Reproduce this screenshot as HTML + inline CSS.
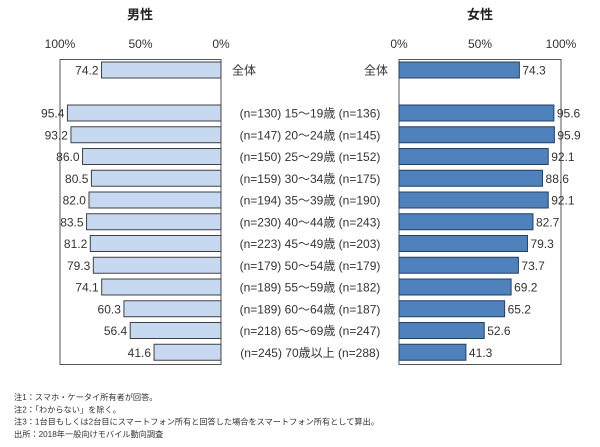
<!DOCTYPE html>
<html><head><meta charset="utf-8"><style>
body{margin:0;background:#fff;}
svg{display:block;font-family:"Liberation Sans","Noto Sans CJK JP",sans-serif;}
</style></head><body>
<svg id="c" width="600" height="447"></svg>
<script>
const categories=["全体","15～19歳","20～24歳","25～29歳","30～34歳","35～39歳","40～44歳","45～49歳","50～54歳","55～59歳","60～64歳","65～69歳","70歳以上"];
const maleN=[null,130,147,150,159,194,230,223,179,189,189,218,245];
const femaleN=[null,136,145,152,175,190,243,203,179,182,187,247,288];
const maleValues=[74.2,95.4,93.2,86.0,80.5,82.0,83.5,81.2,79.3,74.1,60.3,56.4,41.6];
const femaleValues=[74.3,95.6,95.9,92.1,88.6,92.1,82.7,79.3,73.7,69.2,65.2,52.6,41.3];
const ticks=[0,50,100];
const notes=["注1：スマホ・ケータイ所有者が回答。","注2：「わからない」を除く。","注3：1台目もしくは2台目にスマートフォン所有と回答した場合をスマートフォン所有として算出。","出所：2018年一般向けモバイル動向調査"];

const svg=document.getElementById('c');const NS="http://www.w3.org/2000/svg";
function mk(t,a,txt,name){const e=document.createElementNS(NS,t);for(const k in a)e.setAttribute(k,a[k]);if(txt!=null)e.textContent=txt;


svg.appendChild(e);return e;}
const L0=221,L100=60,R0=399,R100=561;
const xL=v=>L0-(L0-L100)*v/100, xR=v=>R0+(R100-R0)*v/100;
const yC=i=>i===0?70:113+(i-1)*21.75;
const bh=16;
mk('text',{x:140,y:19,'text-anchor':'middle','font-size':13,'font-weight':'bold',fill:'#222'},'男性','male-title');
mk('text',{x:480,y:19,'text-anchor':'middle','font-size':13,'font-weight':'bold',fill:'#222'},'女性','female-title');
ticks.forEach(t=>{
 mk('text',{x:xL(t),y:48,'text-anchor':'middle','font-size':12,fill:'#333'},t+'%','male-tick-label');
 mk('text',{x:xR(t),y:48,'text-anchor':'middle','font-size':12,fill:'#333'},t+'%','female-tick-label');
});
mk('rect',{x:L100,y:59.5,width:L0-L100,height:305,fill:'none',stroke:'#555','stroke-width':1},'male-plot-frame');
mk('rect',{x:R0,y:59.5,width:R100-R0,height:305,fill:'none',stroke:'#555','stroke-width':1},'female-plot-frame');
categories.forEach((c,i)=>{
 const y=yC(i);
 const mv=maleValues[i],fv=femaleValues[i];
 mk('rect',{x:xL(mv),y:y-bh/2,width:L0-xL(mv),height:bh,fill:'#c6d9f1',stroke:'#404040','stroke-width':1},'male-bar');
 mk('rect',{x:R0,y:y-bh/2,width:xR(fv)-R0,height:bh,fill:'#4f81bd',stroke:'#243f60','stroke-width':1},'female-bar');
 mk('text',{x:xL(mv)-3,y:y+4.5,'text-anchor':'end','font-size':12,fill:'#333'},mv.toFixed(1),'male-value-label');
 mk('text',{x:xR(fv)+3,y:y+4.5,'font-size':12,fill:'#333'},fv.toFixed(1),'female-value-label');
 if(i===0){
  mk('text',{x:232,y:y+4.5,'font-size':12,fill:'#333'},c,'male-category-label');
  mk('text',{x:388,y:y+4.5,'text-anchor':'end','font-size':12,fill:'#333'},c,'female-category-label');
 }else{
  mk('text',{x:310,y:y+4.5,'text-anchor':'middle','font-size':12,fill:'#333'},'(n='+maleN[i]+') '+c+' (n='+femaleN[i]+')','age-group-label');
 }
});
notes.forEach((n,i)=>mk('text',{x:14,y:400+i*12.3,'font-size':8.2,fill:'#333'},n,'footnote'));
</script>
</body></html>
